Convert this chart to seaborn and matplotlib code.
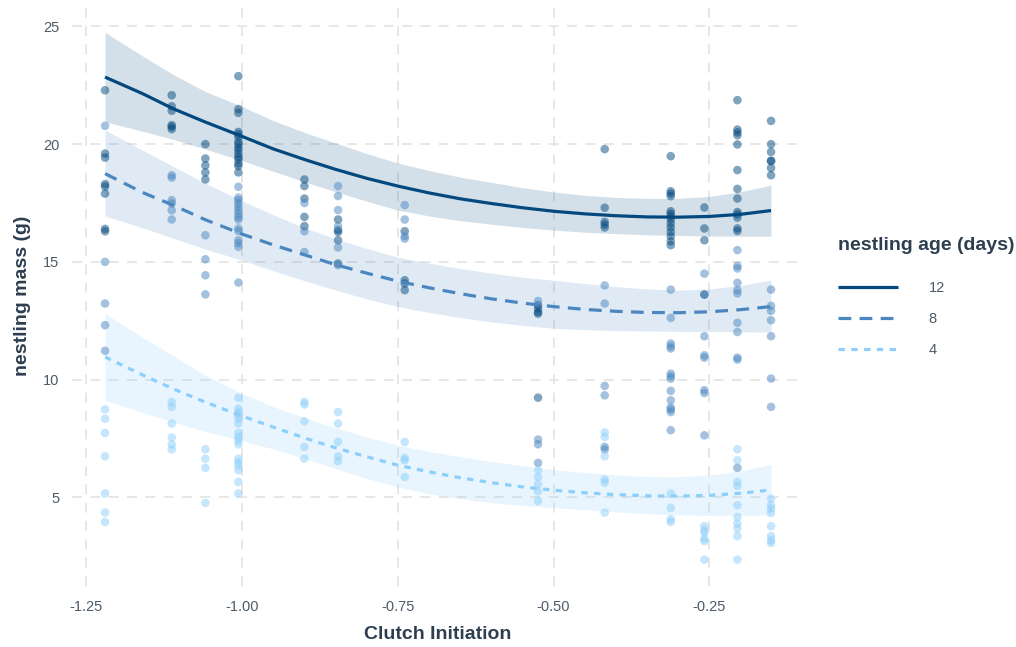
import numpy as np
import pandas as pd
import matplotlib
matplotlib.use("Agg")
import matplotlib.pyplot as plt
import seaborn as sns
from matplotlib.ticker import FuncFormatter

# ---------------- data ----------------
clutch_x = [-1.220, -1.113, -1.059, -1.006, -0.900, -0.846, -0.739,
            -0.525, -0.418, -0.312, -0.258, -0.205, -0.151]

mass_12 = [
    [22.29, 19.6, 19.43, 18.3, 18.2, 17.9, 16.4, 16.3],
    [22.08, 21.61, 21.42, 20.81, 20.74, 20.64],
    [20.0, 19.39, 19.1, 18.8, 18.5],
    [22.89, 21.49, 21.33, 20.52, 20.42, 20.31, 20.1, 20.0, 19.86, 19.75,
     19.6, 19.46, 19.36, 19.18, 19.07, 18.8],
    [18.5, 18.22, 17.69, 16.91, 16.52],
    [16.8, 16.35, 16.27, 15.92, 14.93],
    [16.3, 14.22, 14.08, 13.8],
    [13.16, 13.02, 12.87, 12.8, 9.23],
    [19.79, 17.3, 16.7, 16.59, 16.46],
    [19.49, 18.0, 17.9, 17.79, 17.15, 17.05, 16.94, 16.8, 16.63, 16.46,
     16.27, 16.09, 15.88, 15.71],
    [17.31, 16.42, 15.92, 13.61],
    [21.87, 20.62, 20.5, 20.38, 19.99, 18.9, 18.1, 17.69, 17.12, 17.02,
     16.88, 16.42, 16.31],
    [20.99, 20.0, 19.67, 19.29, 19.29, 18.99, 18.68],
]
mass_8 = [
    [20.78, 15.0, 13.23, 12.31, 11.22],
    [18.68, 18.58, 17.62, 17.48, 17.19, 16.8],
    [16.13, 15.11, 14.43, 13.62],
    [18.19, 17.73, 17.62, 17.48, 17.34, 17.2, 17.05, 16.91, 16.8, 16.42,
     16.31, 15.92, 15.8, 15.64, 14.12],
    [17.5, 16.3, 15.42],
    [18.22, 17.8, 17.2, 16.52, 15.61, 14.86],
    [17.41, 16.8, 16.09, 15.99],
    [13.34, 7.45, 7.25, 6.46],
    [14.0, 13.23, 9.73, 9.33, 7.14, 7.03],
    [13.82, 12.62, 11.53, 11.41, 11.32, 10.25, 10.14, 10.04, 9.52, 9.12,
     8.81, 8.73, 8.62, 7.85],
    [14.5, 13.61, 11.84, 11.03, 10.93, 9.55, 9.43, 7.63],
    [15.5, 14.83, 14.72, 14.11, 13.8, 13.66, 12.41, 12.02, 10.93, 10.85, 6.25],
    [13.82, 13.13, 12.92, 12.52, 11.84, 10.04, 8.84],
]
mass_4 = [
    [8.73, 8.33, 7.73, 6.74, 5.16, 4.35, 3.95],
    [9.05, 8.84, 8.13, 7.54, 7.24, 7.03],
    [7.04, 6.64, 6.25, 4.76],
    [9.23, 8.77, 8.62, 8.48, 8.34, 8.13, 7.73, 7.56, 7.42, 7.25, 6.64, 6.5,
     6.36, 6.15, 5.65, 5.16],
    [9.05, 8.94, 8.23, 7.14, 6.64],
    [8.62, 8.13, 7.35, 6.74, 6.53],
    [7.35, 6.67, 6.57, 5.86],
    [6.15, 5.86, 5.55, 5.25, 4.84],
    [7.75, 7.56, 6.74, 5.75, 5.62, 4.35],
    [5.16, 4.55, 4.07, 3.95],
    [3.77, 3.6, 3.5, 3.24, 3.14, 2.35],
    [7.04, 6.57, 5.65, 5.48, 4.66, 4.16, 3.88, 3.67, 3.35, 2.35],
    [4.94, 4.66, 4.52, 4.33, 3.77, 3.35, 3.17, 3.06],
]

# fitted curves and confidence bands
fit_x = [-1.22, -1.16, -1.11, -1.06, -1.0, -0.95, -0.9, -0.85, -0.8, -0.75,
         -0.7, -0.65, -0.6, -0.55, -0.5, -0.45, -0.4, -0.35, -0.3, -0.25,
         -0.2, -0.151]
fit_12 = [22.85, 22.15, 21.5, 20.95, 20.33, 19.8, 19.35, 18.93, 18.55, 18.22,
          17.93, 17.68, 17.48, 17.3, 17.15, 17.04, 16.96, 16.91, 16.9, 16.93,
          17.02, 17.18]
upr_12 = [24.75, 23.75, 22.95, 22.25, 21.6, 21.0, 20.5, 20.05, 19.6, 19.2,
          18.88, 18.6, 18.38, 18.15, 17.97, 17.83, 17.74, 17.7, 17.7, 17.78,
          17.98, 18.26]
lwr_12 = [20.95, 20.55, 20.2, 19.8, 19.3, 18.85, 18.4, 17.98, 17.58, 17.2,
          16.95, 16.75, 16.6, 16.46, 16.35, 16.26, 16.2, 16.15, 16.12, 16.1,
          16.09, 16.09]
fit_8 = [18.75, 17.95, 17.4, 16.8, 16.18, 15.72, 15.3, 14.88, 14.52, 14.18,
         13.9, 13.65, 13.43, 13.25, 13.1, 12.98, 12.9, 12.85, 12.84, 12.88,
         12.97, 13.1]
upr_8 = [20.6, 19.75, 19.05, 18.35, 17.6, 17.0, 16.45, 15.98, 15.57, 15.2,
         14.95, 14.72, 14.52, 14.35, 14.22, 14.08, 13.95, 13.85, 13.8, 13.85,
         14.0, 14.22]
lwr_8 = [16.95, 16.45, 16.0, 15.55, 15.07, 14.62, 14.2, 13.8, 13.43, 13.1,
         12.85, 12.63, 12.45, 12.3, 12.18, 12.12, 12.08, 12.06, 12.05, 12.04,
         12.03, 12.02]
fit_4 = [10.96, 10.2, 9.6, 9.05, 8.45, 7.98, 7.52, 7.1, 6.72, 6.36,
         6.08, 5.83, 5.62, 5.44, 5.3, 5.19, 5.11, 5.06, 5.05, 5.08,
         5.17, 5.31]
upr_4 = [12.8, 11.8, 11.0, 10.2, 9.41, 8.85, 8.38, 7.95, 7.56, 7.21,
         6.95, 6.72, 6.52, 6.34, 6.18, 6.05, 5.95, 5.88, 5.87, 5.95,
         6.12, 6.4]
lwr_4 = [9.12, 8.6, 8.2, 7.8, 7.4, 7.05, 6.65, 6.22, 5.8, 5.44,
         5.15, 4.93, 4.77, 4.65, 4.56, 4.47, 4.38, 4.3, 4.25, 4.23,
         4.23, 4.24]

ages = ["12", "8", "4"]
x_ticks = [-1.25, -1.00, -0.75, -0.50, -0.25]
y_ticks = [5, 10, 15, 20, 25]

# ---------------- styling ----------------
colors = {"12": "#03497f", "8": "#4a87c0", "4": "#8ccffb"}
line_styles = {"12": None, "8": (0, (4.0, 2.6)), "4": (0, (2.0, 2.0))}
band_alpha = {"12": 0.17, "8": 0.17, "4": 0.2}
title_color = "#2c3e50"
tick_color = "#4d5a68"

sns.set_theme(style="white")
plt.rcParams["font.family"] = ["Liberation Sans", "DejaVu Sans"]

rows = []
for age, groups in zip(ages, [mass_12, mass_8, mass_4]):
    for xv, vals in zip(clutch_x, groups):
        for v in vals:
            rows.append({"clutch": xv, "mass": v, "age": age})
pts = pd.DataFrame(rows)

n = len(fit_x)
fits = pd.DataFrame({
    "clutch": fit_x * 3,
    "fit": fit_12 + fit_8 + fit_4,
    "lwr": lwr_12 + lwr_8 + lwr_4,
    "upr": upr_12 + upr_8 + upr_4,
    "age": ["12"] * n + ["8"] * n + ["4"] * n,
})

fig = plt.figure(figsize=(10.16, 6.47), dpi=100)
ax = fig.add_axes([0.0709, 0.0943, 0.7205, 0.8964])

# grid
for xv in x_ticks:
    ax.axvline(xv, color="#e3e3e3", lw=1.2, ls=(0, (6, 5)), zorder=0)
for yv in y_ticks:
    ax.axhline(yv, color="#e3e3e3", lw=1.2, ls=(0, (6, 5)), zorder=0)

# bands
for age in ages:
    d = fits[fits["age"] == age]
    ax.fill_between(d["clutch"], d["lwr"], d["upr"], color=colors[age],
                    alpha=band_alpha[age], lw=0, zorder=1)

# points
sns.scatterplot(data=pts, x="clutch", y="mass", hue="age", palette=colors,
                hue_order=ages, alpha=0.5, s=38, linewidth=0, legend=False,
                ax=ax, zorder=2)

# fitted lines
handles = []
for age in ages:
    d = fits[fits["age"] == age]
    sns.lineplot(data=d, x="clutch", y="fit", color=colors[age], lw=2.3,
                 ax=ax, legend=False, zorder=3, sort=True)
    ln = ax.lines[-1]
    if line_styles[age] is not None:
        ln.set_linestyle(line_styles[age])
    ln.set_solid_capstyle("butt")
    ln.set_dash_capstyle("butt")
    ln.set_solid_joinstyle("round")
    handles.append(ln)

ax.set_xlim(-1.273, -0.098)
ax.set_ylim(1.23, 25.87)
ax.set_xticks(x_ticks)
ax.set_yticks(y_ticks)
ax.xaxis.set_major_formatter(FuncFormatter(lambda v, p: f"{v:.2f}".replace("\u2212", "-")))
ax.yaxis.set_major_formatter(FuncFormatter(lambda v, p: f"{int(round(v))}"))
ax.tick_params(axis="x", length=0, labelsize=10.5, colors=tick_color, pad=10)
ax.tick_params(axis="y", length=0, labelsize=10.5, colors=tick_color, pad=9)
for s in ax.spines.values():
    s.set_visible(False)
ax.grid(False)

ax.set_xlabel("Clutch Initiation", fontsize=14, fontweight="bold", color=title_color, labelpad=9)
ax.set_ylabel("nestling mass (g)", fontsize=14, fontweight="bold", color=title_color, labelpad=9)

leg = fig.legend(handles, ages, title="nestling age (days)", loc="upper left",
                 bbox_to_anchor=(0.825, 0.634), frameon=False, fontsize=10.5,
                 title_fontsize=14, handlelength=4.1, handletextpad=2.1,
                 labelspacing=1.17, borderpad=0, borderaxespad=0)
leg.get_title().set_fontweight("bold")
leg.get_title().set_color(title_color)
leg._legend_box.align = "left"
leg._legend_box.sep = 19.5
for t in leg.get_texts():
    t.set_color(tick_color)

fig.savefig("out.png", dpi=100)
